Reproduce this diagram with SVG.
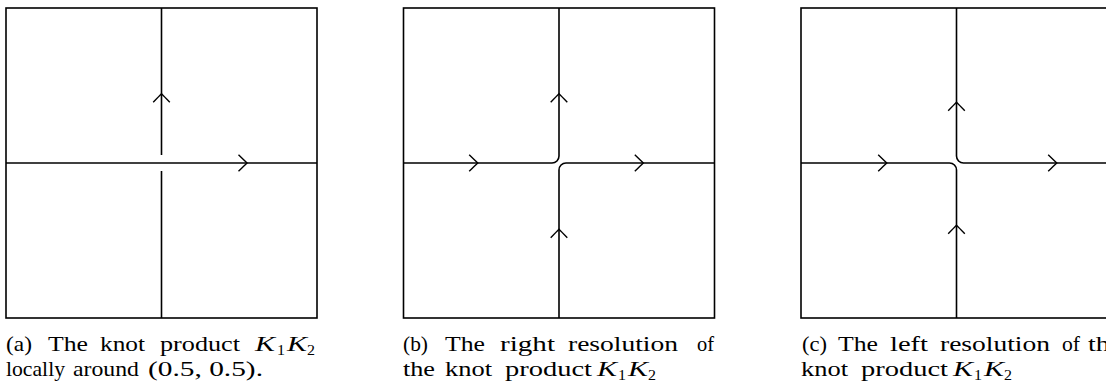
<svg xmlns="http://www.w3.org/2000/svg" xmlns:xlink="http://www.w3.org/1999/xlink" width="1106" height="384" viewBox="0 0 1106 384">
<style>
.frame{fill:none;stroke:#000;stroke-width:1.6}
.strand{fill:none;stroke:#000;stroke-width:1.6}
.tip{fill:none;stroke:#000;stroke-width:1.4;stroke-linecap:butt}
.cap{font-family:"Liberation Serif","Times New Roman",serif;font-size:21px;fill:#000}
.mi{font-style:italic}
.sub{font-size:15px}
</style>
<defs>
<path id="tipR" class="tip" d="M-8.5,-8.3 Q-2.5,-2.5 0,0 Q-2.5,2.5 -8.5,8.3"/>
</defs>
<rect width="1106" height="384" fill="#fff"/>

<g id="panel-a">
<rect class="frame" x="6" y="8" width="311" height="310"/>
</g>
<g id="panel-b">
<rect class="frame" x="403.5" y="8" width="311" height="310"/>
</g>
<g id="panel-c">
<rect class="frame" x="801" y="8" width="311" height="310"/>
</g>

<g id="connectors">
<!-- (a) crossing -->
<path class="strand" d="M6,163 H317"/>
<path class="strand" d="M161.5,8 V155 M161.5,171 V318"/>
<use xlink:href="#tipR" transform="translate(161.5,93.7) rotate(-90)"/>
<use xlink:href="#tipR" transform="translate(247,163)"/>
<!-- (b) right resolution -->
<path class="strand" d="M403.5,163 H552 A7,7 0 0 0 559,156 V8"/>
<path class="strand" d="M714.5,163 H566 A7,7 0 0 0 559,170 V318"/>
<use xlink:href="#tipR" transform="translate(559,93.8) rotate(-90)"/>
<use xlink:href="#tipR" transform="translate(559,229.3) rotate(-90)"/>
<use xlink:href="#tipR" transform="translate(477.7,163)"/>
<use xlink:href="#tipR" transform="translate(643.3,163)"/>
<!-- (c) left resolution -->
<path class="strand" d="M956.5,8 V156 A7,7 0 0 0 963.5,163 H1112"/>
<path class="strand" d="M801,163 H949.5 A7,7 0 0 1 956.5,170 V318"/>
<use xlink:href="#tipR" transform="translate(956.5,102.3) rotate(-90)"/>
<use xlink:href="#tipR" transform="translate(956.5,225.3) rotate(-90)"/>
<use xlink:href="#tipR" transform="translate(886.7,163)"/>
<use xlink:href="#tipR" transform="translate(1056.7,163)"/>
</g>

<g id="captions" class="cap">
<!-- (a) -->
<text x="6" y="351" textLength="26" lengthAdjust="spacingAndGlyphs">(a)</text>
<text x="48" y="351" textLength="40" lengthAdjust="spacingAndGlyphs">The</text>
<text x="100" y="351" textLength="45" lengthAdjust="spacingAndGlyphs">knot</text>
<text x="160" y="351" textLength="80" lengthAdjust="spacingAndGlyphs">product</text>
<text x="255" y="351" class="mi" textLength="20" lengthAdjust="spacingAndGlyphs">K</text>
<text x="277" y="354.5" class="sub" textLength="8" lengthAdjust="spacingAndGlyphs">1</text>
<text x="287" y="351" class="mi" textLength="20" lengthAdjust="spacingAndGlyphs">K</text>
<text x="307" y="354.5" class="sub" textLength="8" lengthAdjust="spacingAndGlyphs">2</text>
<text x="6" y="376" textLength="59" lengthAdjust="spacingAndGlyphs">locally</text>
<text x="73" y="376" textLength="66" lengthAdjust="spacingAndGlyphs">around</text>
<text x="148" y="376" textLength="115" lengthAdjust="spacingAndGlyphs">(0.5, 0.5).</text>
<!-- (b) -->
<text x="403" y="351" textLength="25" lengthAdjust="spacingAndGlyphs">(b)</text>
<text x="445" y="351" textLength="40" lengthAdjust="spacingAndGlyphs">The</text>
<text x="500" y="351" textLength="55" lengthAdjust="spacingAndGlyphs">right</text>
<text x="568" y="351" textLength="110" lengthAdjust="spacingAndGlyphs">resolution</text>
<text x="697" y="351" textLength="17" lengthAdjust="spacingAndGlyphs">of</text>
<text x="403" y="376" textLength="32" lengthAdjust="spacingAndGlyphs">the</text>
<text x="445" y="376" textLength="47" lengthAdjust="spacingAndGlyphs">knot</text>
<text x="505" y="376" textLength="87" lengthAdjust="spacingAndGlyphs">product</text>
<text x="597" y="376" class="mi" textLength="20" lengthAdjust="spacingAndGlyphs">K</text>
<text x="618" y="379.5" class="sub" textLength="8" lengthAdjust="spacingAndGlyphs">1</text>
<text x="628" y="376" class="mi" textLength="20" lengthAdjust="spacingAndGlyphs">K</text>
<text x="648" y="379.5" class="sub" textLength="8" lengthAdjust="spacingAndGlyphs">2</text>
<!-- (c) -->
<text x="802" y="351" textLength="25" lengthAdjust="spacingAndGlyphs">(c)</text>
<text x="838" y="351" textLength="40" lengthAdjust="spacingAndGlyphs">The</text>
<text x="890" y="351" textLength="38" lengthAdjust="spacingAndGlyphs">left</text>
<text x="940" y="351" textLength="110" lengthAdjust="spacingAndGlyphs">resolution</text>
<text x="1062" y="351" textLength="18" lengthAdjust="spacingAndGlyphs">of</text>
<text x="1088" y="351" textLength="34" lengthAdjust="spacingAndGlyphs">the</text>
<text x="801" y="376" textLength="47" lengthAdjust="spacingAndGlyphs">knot</text>
<text x="861" y="376" textLength="87" lengthAdjust="spacingAndGlyphs">product</text>
<text x="953" y="376" class="mi" textLength="20" lengthAdjust="spacingAndGlyphs">K</text>
<text x="974" y="379.5" class="sub" textLength="8" lengthAdjust="spacingAndGlyphs">1</text>
<text x="984" y="376" class="mi" textLength="20" lengthAdjust="spacingAndGlyphs">K</text>
<text x="1004" y="379.5" class="sub" textLength="8" lengthAdjust="spacingAndGlyphs">2</text>
</g>
</svg>
